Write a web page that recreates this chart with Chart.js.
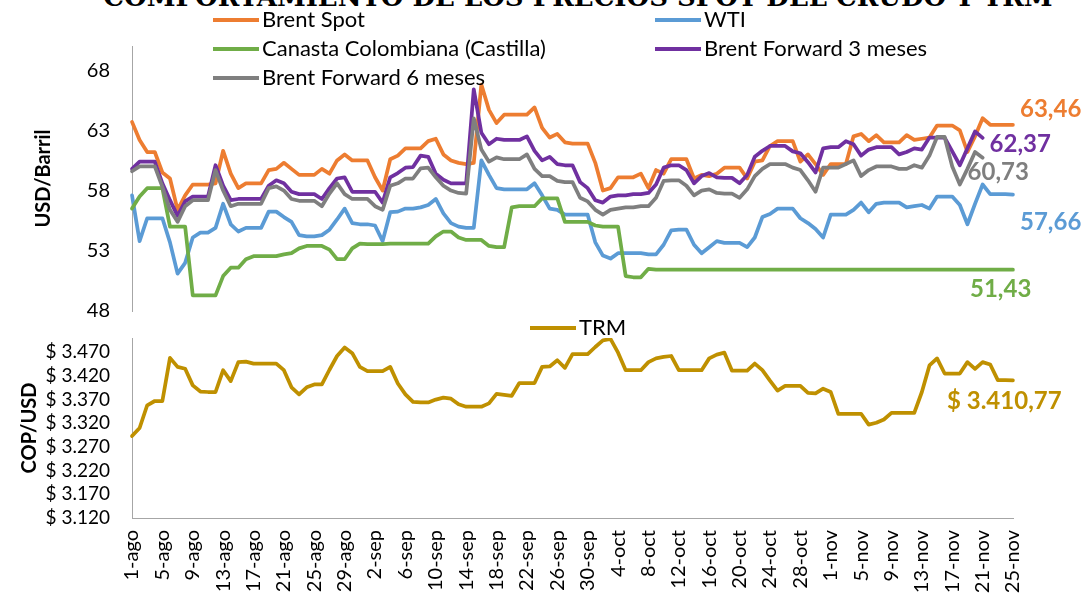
<!DOCTYPE html>
<html lang="es">
<head>
<meta charset="utf-8">
<title>Comportamiento de los precios spot del crudo y TRM</title>
<script src="https://cdn.jsdelivr.net/npm/chart.js@4.4.1/dist/chart.umd.min.js"></script>
<style>
  html, body { margin: 0; padding: 0; background: #fff; }
  #wrap { position: relative; width: 1085px; height: 600px; overflow: hidden; font-family: Lato, "DejaVu Sans", sans-serif; }
  #title { position: absolute; left: 78px; width: 1000px; top: -18px; text-align: center; white-space: nowrap;
           font: bold 26px "DejaVu Serif", "Liberation Serif", serif; color: #000; }
  #topChart { position: absolute; left: 0; top: 0; }
  #trmChart { position: absolute; left: 0; top: 300px; }
  .lg { position: absolute; font-size: 22px; color: #000; white-space: nowrap; line-height: 26px; }
  .lg i { display: inline-block; width: 46px; height: 4px; vertical-align: middle; margin-right: 3px; position: relative; top: -1px; }
</style>
</head>
<body>
<div id="wrap">
  <div id="title">COMPORTAMIENTO DE LOS PRECIOS SPOT DEL CRUDO Y TRM</div>
  <canvas id="topChart" width="1085" height="345"></canvas>
  <canvas id="trmChart" width="1085" height="300"></canvas>

  <div class="lg" style="left:213px;top:6px"><i style="background:#ED7D31"></i>Brent Spot</div>
  <div class="lg" style="left:655px;top:6px"><i style="background:#5B9BD5"></i>WTI</div>
  <div class="lg" style="left:213px;top:35px"><i style="background:#70AD47"></i>Canasta Colombiana (Castilla)</div>
  <div class="lg" style="left:655px;top:35px"><i style="background:#7030A0"></i>Brent Forward 3 meses</div>
  <div class="lg" style="left:213px;top:64px"><i style="background:#7F7F7F"></i>Brent Forward 6 meses</div>
  <div class="lg" style="left:530px;top:314px"><i style="background:#BF9000"></i>TRM</div>
</div>

<script>
// ---- data (daily, 1-ago .. 25-nov) ----
const months = [['ago', 31], ['sep', 30], ['oct', 31], ['nov', 25]];
const dates = months.flatMap(([m, n]) => Array.from({ length: n }, (_, i) => (i + 1) + '-' + m));

const brentSpot = [
  63.7, 62.2, 61.2, 61.2, 59.5, 59.0, 56.4, 57.6, 58.5, 58.5, 58.5, 58.6, 61.3, 59.4, 58.2, 58.6, 58.6, 58.6, 59.7, 59.8,
  60.3, 59.8, 59.3, 59.3, 59.3, 59.8, 59.4, 60.5, 61.0, 60.5, 60.5, 60.5, 59.1, 58.0, 60.6, 60.9, 61.5, 61.5, 61.5, 62.1,
  62.3, 61.0, 60.5, 60.3, 60.2, 60.3, 66.8, 64.7, 63.6, 64.3, 64.3, 64.3, 64.3, 64.9, 63.2, 62.4, 62.7, 62.0, 61.9, 61.9,
  61.9, 60.3, 58.0, 58.2, 59.1, 59.1, 59.1, 59.4, 58.2, 59.7, 59.4, 60.6, 60.6, 60.6, 59.0, 59.3, 59.2, 59.4, 59.9, 59.9,
  59.9, 59.0, 60.4, 60.5, 61.7, 62.1, 62.1, 62.1, 60.4, 61.0, 60.2, 59.3, 60.2, 60.2, 60.2, 62.5, 62.7, 62.1, 62.6, 62.0,
  62.0, 62.0, 62.6, 62.2, 62.3, 62.4, 63.4, 63.4, 63.4, 63.0, 61.2, 62.5, 64.0, 63.46, 63.46, 63.46, 63.46
];
const wti = [
  57.6, 53.8, 55.7, 55.7, 55.7, 53.7, 51.1, 52.0, 54.1, 54.5, 54.5, 54.9, 56.9, 55.2, 54.6, 54.9, 54.9, 54.9, 56.25, 56.25,
  55.8, 55.4, 54.3, 54.2, 54.2, 54.3, 54.75, 55.6, 56.5, 55.3, 55.2, 55.2, 55.1, 53.8, 56.2, 56.25, 56.5, 56.5, 56.6, 56.8,
  57.3, 56.1, 55.3, 55.0, 54.9, 54.9, 60.5, 59.3, 58.2, 58.1, 58.1, 58.1, 58.1, 58.6, 57.6, 56.5, 56.4, 56.0, 56.0, 56.0,
  56.0, 53.7, 52.6, 52.35, 52.8, 52.8, 52.8, 52.8, 52.7, 52.7, 53.5, 54.7, 54.75, 54.75, 53.5, 52.8, 53.3, 53.8, 53.65, 53.65,
  53.65, 53.3, 54.1, 55.8, 56.05, 56.5, 56.5, 56.5, 55.7, 55.3, 54.8, 54.1, 56.0, 56.0, 56.0, 56.4, 57.0, 56.2, 56.9, 57.0,
  57.0, 57.0, 56.6, 56.7, 56.8, 56.5, 57.5, 57.5, 57.5, 56.8, 55.2, 56.9, 58.5, 57.7, 57.7, 57.7, 57.66
];
const canasta = [
  56.5, 57.5, 58.2, 58.2, 58.2, 55.0, 55.0, 55.0, 49.3, 49.3, 49.3, 49.3, 50.9, 51.6, 51.6, 52.3, 52.55, 52.55, 52.55, 52.55,
  52.7, 52.8, 53.2, 53.4, 53.4, 53.4, 53.1, 52.3, 52.3, 53.2, 53.6, 53.55, 53.55, 53.55, 53.6, 53.6, 53.6, 53.6, 53.6, 53.6,
  54.2, 54.6, 54.6, 54.1, 53.9, 53.9, 53.9, 53.4, 53.3, 53.3, 56.6, 56.7, 56.7, 56.7, 57.35, 57.35, 57.35, 55.4, 55.4, 55.4,
  55.4, 55.1, 55.0, 55.0, 55.0, 50.9, 50.8, 50.8, 51.5, 51.43, 51.43, 51.43, 51.43, 51.43, 51.43, 51.43, 51.43, 51.43, 51.43, 51.43,
  51.43, 51.43, 51.43, 51.43, 51.43, 51.43, 51.43, 51.43, 51.43, 51.43, 51.43, 51.43, 51.43, 51.43, 51.43, 51.43, 51.43, 51.43, 51.43, 51.43,
  51.43, 51.43, 51.43, 51.43, 51.43, 51.43, 51.43, 51.43, 51.43, 51.43, 51.43, 51.43, 51.43, 51.43, 51.43, 51.43, 51.43
];
const brentFwd3 = [
  59.8, 60.4, 60.4, 60.4, 58.6, 57.2, 55.9, 57.1, 57.5, 57.5, 57.5, 60.1, 58.4, 57.2, 57.3, 57.3, 57.3, 57.3, 58.4, 58.85,
  58.6, 57.9, 57.7, 57.7, 57.7, 57.3, 58.2, 59.0, 59.1, 57.9, 57.9, 57.9, 57.9, 57.0, 59.1, 59.45, 59.9, 59.95, 60.9, 60.8,
  59.4, 58.9, 58.6, 58.6, 58.6, 66.4, 62.8, 61.85, 62.3, 62.2, 62.2, 62.2, 62.5, 61.3, 60.5, 60.8, 60.2, 60.1, 60.1, 58.7,
  58.2, 57.2, 57.0, 57.5, 57.6, 57.6, 57.7, 57.7, 57.8, 58.5, 59.9, 60.1, 60.1, 59.7, 58.6, 59.2, 59.45, 59.1, 59.05, 59.05,
  58.6, 59.3, 60.8, 61.3, 61.7, 61.7, 61.7, 61.25, 61.1, 60.35, 59.5, 61.5, 61.6, 61.6, 62.1, 61.85, 60.9, 61.4, 61.6, 61.6,
  61.6, 61.0, 61.2, 61.5, 61.4, 62.4, 62.4, 62.4, 61.25, 60.1, 61.5, 62.9, 62.37, null, null, null, null
];
const brentFwd6 = [
  59.6, 60.0, 60.0, 60.0, 58.3, 56.4, 55.4, 56.7, 57.2, 57.2, 57.2, 59.7, 58.0, 56.7, 56.9, 56.9, 56.9, 56.9, 58.2, 58.35,
  58.0, 57.3, 57.15, 57.15, 57.15, 56.7, 57.75, 58.6, 57.7, 57.3, 57.3, 57.3, 56.7, 56.4, 58.4, 58.6, 59.0, 59.0, 59.85, 59.9,
  59.1, 58.4, 58.0, 57.8, 57.75, 64.0, 61.4, 60.4, 60.75, 60.6, 60.6, 60.6, 61.0, 59.8, 59.2, 59.2, 58.8, 58.7, 58.7, 57.4,
  57.1, 56.4, 56.0, 56.4, 56.5, 56.6, 56.6, 56.7, 56.7, 57.4, 58.8, 58.85, 58.85, 58.4, 57.6, 58.0, 58.1, 57.8, 57.75, 57.75,
  57.4, 58.1, 59.2, 59.8, 60.2, 60.2, 60.2, 59.9, 59.7, 58.85, 57.9, 59.9, 59.9, 59.9, 60.2, 60.5, 59.2, 59.7, 60.0, 60.0,
  60.0, 59.8, 59.8, 60.1, 59.9, 60.9, 62.45, 62.45, 60.0, 58.5, 59.8, 61.2, 60.73, null, null, null, null
];
const trm = [
  3293, 3310, 3358, 3367, 3367, 3458, 3439, 3435, 3400, 3387, 3386, 3386, 3432, 3409, 3449, 3450, 3446, 3446, 3446, 3446,
  3432, 3396, 3381, 3396, 3402, 3402, 3433, 3462, 3480, 3468, 3439, 3430, 3430, 3430, 3439, 3404, 3381, 3365, 3364, 3364,
  3370, 3374, 3372, 3360, 3355, 3355, 3355, 3362, 3382, 3380, 3378, 3405, 3405, 3405, 3439, 3440, 3453, 3437, 3466, 3466,
  3466, 3481, 3495, 3498, 3469, 3432, 3432, 3432, 3449, 3457, 3460, 3462, 3432, 3432, 3432, 3432, 3457, 3465, 3469, 3431,
  3431, 3431, 3446, 3432, 3410, 3389, 3399, 3399, 3399, 3384, 3383, 3393, 3386, 3340, 3340, 3340, 3340, 3317, 3321, 3328,
  3342, 3342, 3342, 3342, 3386, 3442, 3457, 3425, 3425, 3425, 3449, 3435, 3449, 3444, 3411, 3411, 3410.77
];

const priceTicks = [48, 53, 58, 63, 68];
const trmTicks = [3120, 3170, 3220, 3270, 3320, 3370, 3420, 3470];

// ---- helpers ----
const FONT = 'Lato, "DejaVu Sans", sans-serif';
const comma2 = v => v.toFixed(2).replace('.', ',');
const pesos = v => '$ ' + Math.floor(v / 1000) + '.' + String(Math.round(v % 1000)).padStart(3, '0');
const pesos2 = v => {
  const [ent, dec] = v.toFixed(2).split('.');
  return '$ ' + ent.slice(0, -3) + '.' + ent.slice(-3) + ',' + dec;
};

const endLabels = {
  id: 'endLabels',
  afterDatasetsDraw(chart) {
    const ctx = chart.ctx;
    chart.data.datasets.forEach((ds, i) => {
      if (!ds.endLabel) return;
      let k = ds.data.length - 1;
      while (k > 0 && ds.data[k] == null) k--;
      const pt = chart.getDatasetMeta(i).data[k];
      ctx.save();
      ctx.font = 'bold 24px ' + FONT;
      ctx.fillStyle = ds.borderColor;
      ctx.textAlign = 'left';
      ctx.textBaseline = 'middle';
      ctx.fillText(ds.endLabel.fmt(ds.data[k]), pt.x + ds.endLabel.dx, pt.y + ds.endLabel.dy);
      ctx.restore();
    });
  }
};

// nudge layout padding until the plot area sits where the original one does
function pinArea(chart, box) {
  for (let n = 0; n < 3; n++) {
    const a = chart.chartArea;
    const p = chart.options.layout.padding;
    p.top = Math.max(0, p.top + box.top - a.top);
    p.bottom = Math.max(0, p.bottom + a.bottom - box.bottom);
    p.left = Math.max(0, p.left + box.left - a.left);
    p.right = Math.max(0, p.right + a.right - box.right);
    chart.update('none');
  }
}

function line(data, color, order, endLabel) {
  return {
    data, borderColor: color, backgroundColor: color, order, endLabel,
    borderWidth: 3.75, pointRadius: 0, tension: 0,
    borderJoinStyle: 'round', borderCapStyle: 'round', fill: false
  };
}

const yTitle = text => ({
  display: true, text, color: '#000',
  font: { family: FONT, size: 20, weight: 'bold' }, padding: { top: 4, bottom: 4 }
});

function initTopChart() {
  const chart = new Chart(document.getElementById('topChart'), {
    type: 'line',
    data: {
      labels: dates,
      datasets: [
        line(brentSpot, '#ED7D31', 5, { fmt: comma2, dx: 7, dy: -16 }),
        line(wti, '#5B9BD5', 4, { fmt: comma2, dx: 7, dy: 28 }),
        line(canasta, '#70AD47', 3, { fmt: comma2, dx: -43, dy: 20 }),
        line(brentFwd3, '#7030A0', 2, { fmt: comma2, dx: 7, dy: 6 }),
        line(brentFwd6, '#7F7F7F', 1, { fmt: comma2, dx: -15, dy: 15 })
      ]
    },
    options: {
      responsive: false,
      animation: false,
      events: [],
      layout: { padding: { left: 28, top: 46, right: 72, bottom: 31 } },
      plugins: { legend: { display: false }, tooltip: { enabled: false } },
      scales: {
        x: { display: false, offset: false },
        y: {
          min: 48, max: 70,
          afterBuildTicks: s => { s.ticks = priceTicks.map(v => ({ value: v })); },
          afterFit: s => { s.width = 104; },
          grid: { display: false, drawTicks: false },
          border: { display: true, color: '#A6A6A6', width: 1 },
          ticks: { autoSkip: false, padding: 22, color: '#000', font: { family: FONT, size: 20 } },
          title: yTitle('USD/Barril')
        }
      }
    },
    plugins: [endLabels]
  });
  pinArea(chart, { top: 46, bottom: 316, left: 132, right: 1013 });
}

function initTrmChart() {
  const chart = new Chart(document.getElementById('trmChart'), {
    type: 'line',
    data: {
      labels: dates,
      datasets: [line(trm, '#BF9000', 1, { fmt: pesos2, dx: -66, dy: 21 })]
    },
    options: {
      responsive: false,
      animation: false,
      events: [],
      layout: { padding: { left: 14, top: 38, right: 72, bottom: 0 } },
      plugins: { legend: { display: false }, tooltip: { enabled: false } },
      scales: {
        x: {
          offset: false,
          afterFit: s => { s.height = 82; },
          grid: { display: false, drawTicks: false },
          border: { display: true, color: '#A6A6A6', width: 1 },
          ticks: {
            autoSkip: false, minRotation: 90, maxRotation: 90, padding: 12,
            color: '#000', font: { family: FONT, size: 20 },
            callback: (v, i) => (i % 4 === 0 ? dates[i] : '')
          }
        },
        y: {
          min: 3120, max: 3500,
          afterBuildTicks: s => { s.ticks = trmTicks.map(v => ({ value: v })); },
          afterFit: s => { s.width = 118; },
          grid: { display: false, drawTicks: false },
          border: { display: true, color: '#A6A6A6', width: 1 },
          ticks: { autoSkip: false, padding: 22, color: '#000', font: { family: FONT, size: 19 }, callback: v => pesos(v) },
          title: yTitle('COP/USD')
        }
      }
    },
    plugins: [endLabels]
  });
  // canvas starts at y=300 on the page
  pinArea(chart, { top: 38, bottom: 218, left: 132, right: 1013 });
}

Promise.all([
  document.fonts.load('20px Lato'),
  document.fonts.load('bold 22px Lato')
]).catch(() => {}).then(() => {
  initTopChart();
  initTrmChart();
});
</script>
</body>
</html>
